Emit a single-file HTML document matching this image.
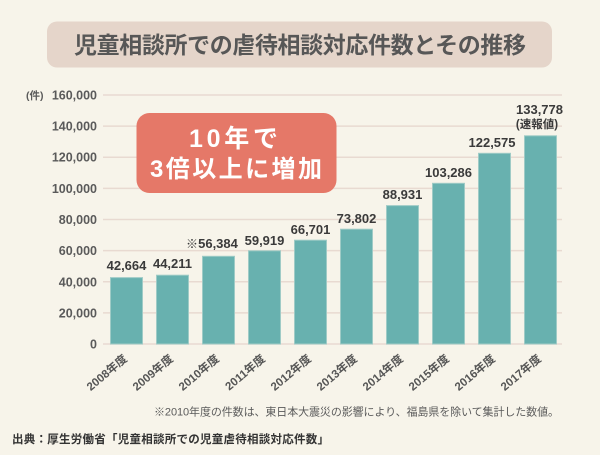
<!DOCTYPE html>
<html><head><meta charset="utf-8"><style>
html,body{margin:0;padding:0;background:#f7f4ea;}
svg{display:block;}
text{font-family:"Liberation Sans","Noto Sans CJK JP",sans-serif;}
</style></head><body>
<svg width="600" height="455" viewBox="0 0 600 455" xmlns="http://www.w3.org/2000/svg">
<rect x="0" y="0" width="600" height="455" fill="#f7f4ea"/>
<!-- title -->
<rect x="47" y="21.5" width="505" height="46" rx="10" fill="#e5d5ca"/>
<text x="74" y="53" font-size="23" font-weight="bold" fill="#575757" textLength="452" lengthAdjust="spacing">児童相談所での虐待相談対応件数とその推移</text>

<!-- gridlines -->
<g stroke="#e8dad1" stroke-width="1.5">
<line x1="103" x2="562" y1="95" y2="95"/>
<line x1="103" x2="562" y1="126.1" y2="126.1"/>
<line x1="103" x2="562" y1="157.2" y2="157.2"/>
<line x1="103" x2="562" y1="188.4" y2="188.4"/>
<line x1="103" x2="562" y1="219.5" y2="219.5"/>
<line x1="103" x2="562" y1="250.6" y2="250.6"/>
<line x1="103" x2="562" y1="281.8" y2="281.8"/>
<line x1="103" x2="562" y1="312.9" y2="312.9"/>
<line x1="103" x2="562" y1="344" y2="344"/>
</g>

<!-- y labels -->
<g font-size="12.5" font-weight="bold" fill="#5a5a5a" text-anchor="end">
<text x="97" y="99.5">160,000</text>
<text x="97" y="130.6">140,000</text>
<text x="97" y="161.7">120,000</text>
<text x="97" y="192.9">100,000</text>
<text x="97" y="224">80,000</text>
<text x="97" y="255.1">60,000</text>
<text x="97" y="286.3">40,000</text>
<text x="97" y="317.4">20,000</text>
<text x="97" y="348.5">0</text>
</g>
<text x="26" y="99" font-size="10.5" font-weight="bold" fill="#5a5a5a">(件)</text>

<!-- callout -->
<rect x="136.5" y="113" width="200" height="80" rx="13" fill="#e57868"/>
<text x="189" y="147" font-size="25" font-weight="bold" fill="#ffffff" textLength="89" lengthAdjust="spacing">10年で</text>
<text x="150" y="177" font-size="24" font-weight="bold" fill="#ffffff" textLength="172" lengthAdjust="spacing">3倍以上に増加</text>

<!-- bars -->
<g fill="#68b1af" stroke="#9fcbc6" stroke-width="1">
<rect x="110.5" y="277.6" width="32" height="66.4"/>
<rect x="156.5" y="275.2" width="32" height="68.8"/>
<rect x="202.5" y="256.3" width="32" height="87.7"/>
<rect x="248.5" y="250.8" width="32" height="93.2"/>
<rect x="294.5" y="240.2" width="32" height="103.8"/>
<rect x="340.5" y="229.2" width="32" height="114.8"/>
<rect x="386.5" y="205.6" width="32" height="138.4"/>
<rect x="432.5" y="183.3" width="32" height="160.7"/>
<rect x="478.5" y="153.3" width="32" height="190.7"/>
<rect x="524.5" y="135.8" width="32" height="208.2"/>
</g>

<!-- value labels -->
<g font-size="13" font-weight="bold" fill="#3a3a3a" text-anchor="middle">
<text x="126.5" y="270">42,664</text>
<text x="172.5" y="268">44,211</text>
<text x="218" y="248">56,384</text>
<text x="264.5" y="245">59,919</text>
<text x="310.5" y="234">66,701</text>
<text x="356.5" y="223">73,802</text>
<text x="402.5" y="199">88,931</text>
<text x="448.5" y="177">103,286</text>
<text x="492" y="147">122,575</text>
<text x="539.5" y="114">133,778</text>
</g>
<text x="186" y="248" font-size="12" font-weight="bold" fill="#3a3a3a">※</text>
<text x="537" y="128" font-size="11.5" font-weight="bold" fill="#3a3a3a" text-anchor="middle">(速報値)</text>

<!-- x labels -->
<g font-size="11.5" font-weight="bold" fill="#555555" text-anchor="end">
<text transform="translate(128,360) rotate(-40)">2008年度</text>
<text transform="translate(174,360) rotate(-40)">2009年度</text>
<text transform="translate(220,360) rotate(-40)">2010年度</text>
<text transform="translate(266,360) rotate(-40)">2011年度</text>
<text transform="translate(312,360) rotate(-40)">2012年度</text>
<text transform="translate(358,360) rotate(-40)">2013年度</text>
<text transform="translate(404,360) rotate(-40)">2014年度</text>
<text transform="translate(450,360) rotate(-40)">2015年度</text>
<text transform="translate(496,360) rotate(-40)">2016年度</text>
<text transform="translate(542,360) rotate(-40)">2017年度</text>
</g>

<!-- footnote -->
<text x="154" y="415.5" font-size="11" fill="#5a5a5a" textLength="405" lengthAdjust="spacing">※2010年度の件数は、東日本大震災の影響により、福島県を除いて集計した数値。</text>
<text x="12" y="443" font-size="11.5" font-weight="bold" fill="#333333" textLength="317" lengthAdjust="spacing">出典：厚生労働省「児童相談所での児童虐待相談対応件数」</text>
</svg>
</body></html>
